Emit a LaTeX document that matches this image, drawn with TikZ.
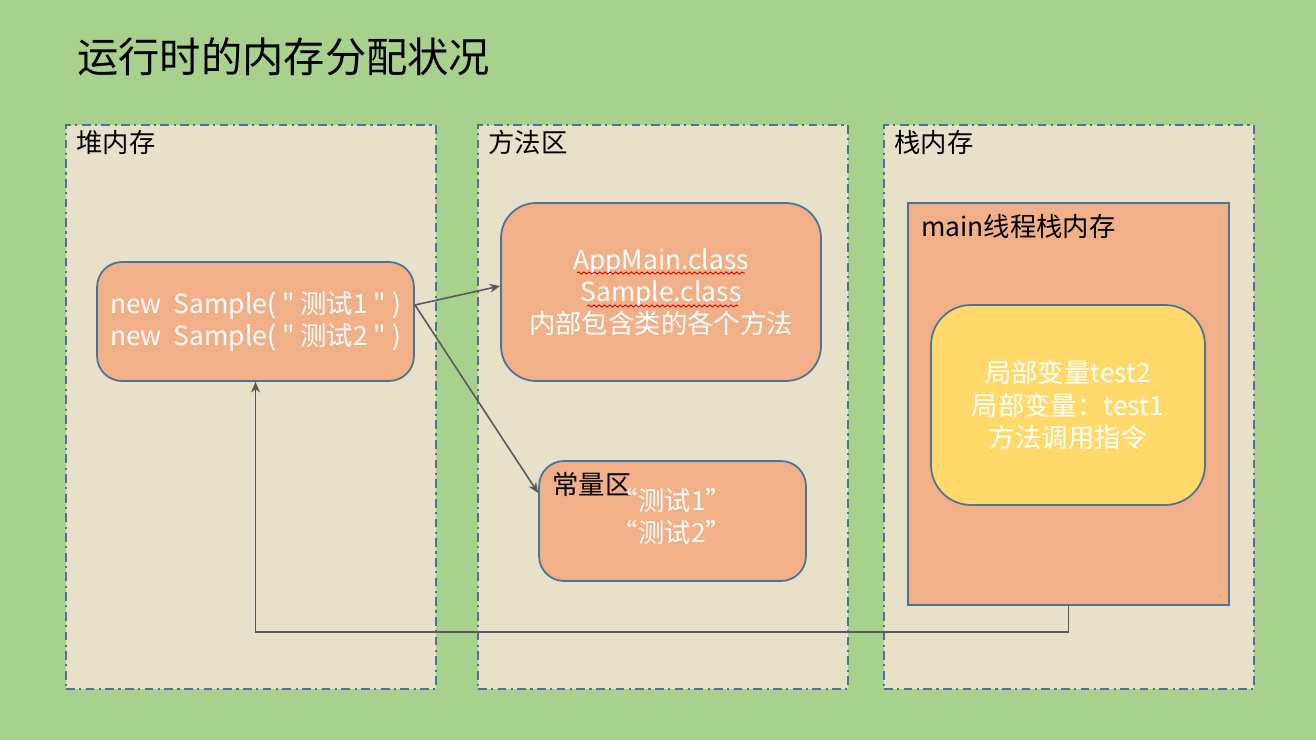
\documentclass[tikz,border=0pt]{standalone}
\usepackage{fontspec}
\setmainfont{Noto Sans CJK SC}[Ligatures=TeXOff]
\usetikzlibrary{arrows.meta, decorations.pathmorphing}
\definecolor{bggreen}{HTML}{A9D18E}
\definecolor{areabg}{HTML}{E7E1C9}
\definecolor{boxorange}{HTML}{F2B089}
\definecolor{boxyellow}{HTML}{FFD96A}
\definecolor{edgeblue}{HTML}{4B7397}
\definecolor{linegray}{HTML}{595959}
\newcommand{\bodyfont}{\fontsize{15}{18.3}\selectfont}
\tikzstyle{area} = [rectangle, anchor=north west, minimum width=7.4cm, minimum height=11.28cm, fill=areabg, draw=edgeblue, line width=1pt, dash pattern=on 5pt off 2.5pt on 1.2pt off 2.5pt]
\tikzstyle{areaname} = [anchor=base west, inner sep=0pt, font=\bodyfont]
\tikzstyle{obj} = [rectangle, rounded corners=0.5cm, draw=edgeblue, line width=1pt, fill=boxorange, text=white, align=center, font=\bodyfont]
\tikzstyle{arrow} = [line width=0.9pt, draw=linegray, -{Stealth[length=6pt, width=5pt]}]
\tikzstyle{wavy} = [red!85!black, line width=0.5pt, decorate, decoration={snake, amplitude=0.6pt, segment length=3pt}]

\begin{document}
\begin{tikzpicture}[x=0.02cm, y=-0.02cm]
   \fill[bggreen] (0,0) rectangle (1316,740);
   \node (title) [anchor=west, inner sep=0pt, font=\fontsize{23.5}{28}\selectfont] at (77,57) {运行时的内存分配状况};
   % three memory areas
   \node (heaparea) [area] at (65,124) {};
   \node (methodarea) [area] at (477,124) {};
   \node (stackarea) [area] at (883,124) {};
   \node (heapname) [areaname] at (76,153) {堆内存};
   \node (methodname) [areaname] at (488,153) {方法区};
   \node (stackname) [areaname] at (894,153) {栈内存};
   % heap
   \node (heap) [obj, minimum width=6.34cm, minimum height=2.38cm] at (255.5,321.5) {new\ \ Sample( " 测试1 " )\\new\ \ Sample( " 测试2 " )};
   % method area
   \node (appmain) [obj, rounded corners=0.7cm, minimum width=6.4cm, minimum height=3.56cm] at (661,292) {AppMain.class\\Sample.class\\内部包含类的各个方法};
   \draw[wavy] (577,273) -- (745,273);
   \draw[wavy] (587,306) -- (738,306);
   \node (const) [obj, minimum width=5.34cm, minimum height=2.4cm] at (672.5,521) {};
   \node (constname) [areaname] at (552,494) {常量区};
   \node (constval) [text=white, align=center, font=\bodyfont] at (672,516) {“测试1”\\“测试2”};
   % stack
   \node (mainstack) [rectangle, draw=edgeblue, line width=1pt, fill=boxorange, minimum width=6.42cm, minimum height=8.04cm] at (1068.5,404) {};
   \node (mainname) [areaname] at (921,236) {main线程栈内存};
   \node (frame) [obj, fill=boxyellow, rounded corners=0.8cm, minimum width=5.48cm, minimum height=4cm] at (1068,405) {局部变量test2\\局部变量：test1\\方法调用指令};
   % references
   \coordinate (fork) at (415,305);
   \draw [arrow] (fork) -- ([yshift=0.12cm]appmain.west);
   \draw [arrow] (fork) -- ([yshift=0.56cm]const.west);
   \draw [arrow] (mainstack.south) -- ++(0,26) -| (heap.south);
\end{tikzpicture}
\end{document}
